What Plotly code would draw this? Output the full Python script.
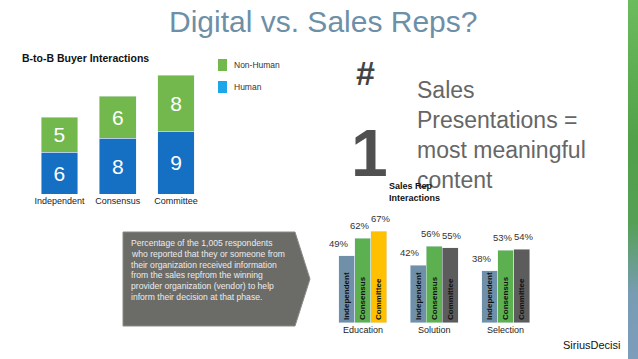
import plotly.graph_objects as go

W, H = 638, 359
def px(x): return x / W
def py(y): return 1 - y / H

# ---- Data: B-to-B Buyer Interactions ----
buyer_types = ["Independent", "Consensus", "Committee"]
human = [6, 8, 9]
non_human = [5, 6, 8]

# ---- Data: Sales Rep Interactions ----
phases = ["Education", "Solution", "Selection"]
rep_series = ["Independent", "Consensus", "Committee"]
rep_independent = [49, 42, 38]
rep_consensus = [62, 56, 53]
rep_committee = [67, 55, 54]

box_lines = [
    "Percentage of the 1,005 respondents",
    "who reported that they or someone from",
    "their organization received information",
    "from the sales repfrom the winning",
    "provider organization (vendor) to help",
    "inform their decision at that phase.",
]
headline_lines = ["Sales", "Presentations =", "most meaningful", "content"]

FONT = "Liberation Sans, Arial, sans-serif"
fig = go.Figure()

# Chart 1: stacked bars
fig.add_trace(go.Bar(x=buyer_types, y=human, name="Human", marker_color="#1570c4",
                     text=[str(v) for v in human], textposition="inside",
                     insidetextanchor="middle",
                     textfont=dict(color="white", size=21, family=FONT),
                     xaxis="x", yaxis="y", showlegend=False))
fig.add_trace(go.Bar(x=buyer_types, y=non_human, name="Non-Human", marker_color="#72b84c",
                     text=[str(v) for v in non_human], textposition="inside",
                     insidetextanchor="middle",
                     textfont=dict(color="white", size=21, family=FONT),
                     xaxis="x", yaxis="y", showlegend=False))

# Chart 2: grouped bars on numeric axis
bw = 16 / 71.5
rep_values = [rep_independent, rep_consensus, rep_committee]
rep_colors = [
    ["#7090aa"] * 3,
    ["#5cb04f"] * 3,
    ["#ffc000", "#5c5c5c", "#5c5c5c"],
]
label_shift = [-8, -3, 2]
for j, (name, vals, cols) in enumerate(zip(rep_series, rep_values, rep_colors)):
    xs = [g + (j - 1) * bw for g in range(len(phases))]
    fig.add_trace(go.Bar(x=xs, y=vals, width=bw, name=name, marker_color=cols,
                         text=[name] * len(vals), textposition="inside",
                         insidetextanchor="start", textangle=-90,
                         textfont=dict(color="#111", size=8, family=FONT, weight="bold"),
                         constraintext="none",
                         xaxis="x2", yaxis="y2", showlegend=False))
    for x, v in zip(xs, vals):
        fig.add_annotation(x=x, y=v, xref="x2", yref="y2", text=f"{v}%",
                           showarrow=False, yanchor="bottom", yshift=5,
                           xshift=label_shift[j],
                           font=dict(size=9.5, color="#333", family=FONT))

shapes = []
# gray callout box with arrow
shapes.append(dict(type="path", xref="paper", yref="paper",
                   path=f"M {px(123)} {py(232)} L {px(295)} {py(232)} L {px(310)} {py(279)} "
                        f"L {px(295)} {py(326)} L {px(123)} {py(326)} Z",
                   fillcolor="#6b6b68", line=dict(color="#8a8a88", width=1), layer="below"))
# legend squares
shapes.append(dict(type="rect", xref="paper", yref="paper", x0=px(218), x1=px(227),
                   y0=py(71), y1=py(59), fillcolor="#72b84c", line_width=0))
shapes.append(dict(type="rect", xref="paper", yref="paper", x0=px(218), x1=px(227),
                   y0=py(93), y1=py(81), fillcolor="#1ea6ea", line_width=0))

fig.update_layout(shapes=shapes)

# right gradient strip
fig.add_trace(go.Scatter(x=[628, 638, 638, 628, 628], y=[0, 0, 359, 359, 0],
                         mode="lines", line=dict(width=0), fill="toself",
                         fillgradient=dict(type="vertical",
                                           colorscale=[[0, "#7d9dba"], [0.18, "#789cb4"],
                                                       [0.38, "#56a056"], [0.6, "#52a049"],
                                                       [1, "#6cbb5c"]]),
                         xaxis="x3", yaxis="y3", showlegend=False, hoverinfo="skip"))

ann = []
def text(x, y, s, size, color="#333", bold=False, xanchor="left", yanchor="middle"):
    ann.append(dict(x=px(x), y=py(y), xref="paper", yref="paper", text=s, showarrow=False,
                    xanchor=xanchor, yanchor=yanchor, align="left",
                    font=dict(size=size, color=color, family=FONT,
                              weight="bold" if bold else "normal")))

text(323, 21, "Digital vs. Sales Reps?", 30, color="#6d8fa7", xanchor="center")
text(20, 58, "B-to-B Buyer Interactions", 10.5, color="#111", bold=True)
text(232, 65, "Non-Human", 8.5, color="#333")
text(232, 87, "Human", 8.5, color="#333")
text(365, 73, "#", 34, color="#444", bold=True, xanchor="center")
text(369, 153, "1", 66, color="#505050", bold=True, xanchor="center")
text(415, 135, "<br>".join(headline_lines), 23, color="#666")
text(387, 186, "Sales Rep", 9, color="#111", bold=True)
text(387, 198, "Interactions", 9, color="#111", bold=True)
for i, line in enumerate(box_lines):
    text(129, 243 + i * 10.8, line, 8.6, color="#ececec")
text(561, 345, "SiriusDecisi", 11, color="#111")

fig.update_layout(
    annotations=fig.layout.annotations + tuple(ann),
    width=W, height=H, margin=dict(l=0, r=0, t=0, b=0),
    paper_bgcolor="white", plot_bgcolor="rgba(0,0,0,0)",
    barmode="stack", bargap=0.37,
    font=dict(family=FONT),
    xaxis=dict(domain=[px(30.25), px(205.25)], anchor="y", showgrid=False, zeroline=False,
               showline=False, ticks="", tickfont=dict(size=9, color="#222")),
    yaxis=dict(domain=[py(194), py(54)], range=[0, 20], visible=False),
    xaxis2=dict(domain=[px(327.25), px(541.25)], anchor="y2", range=[-0.5, 2.5],
                tickvals=[0, 1, 2], ticktext=phases, showgrid=False, zeroline=False,
                showline=False, ticks="", tickfont=dict(size=9, color="#222")),
    yaxis2=dict(domain=[py(323), py(213.4)], range=[0, 80], visible=False),
    xaxis3=dict(domain=[0, 1], range=[0, 638], visible=False, fixedrange=True),
    yaxis3=dict(domain=[0, 1], range=[359, 0], visible=False, fixedrange=True, anchor="x3"),
)

fig.write_html("out.html", config={"displayModeBar": False},
               post_script="document.body.style.margin='0';document.body.style.overflow='hidden';")
